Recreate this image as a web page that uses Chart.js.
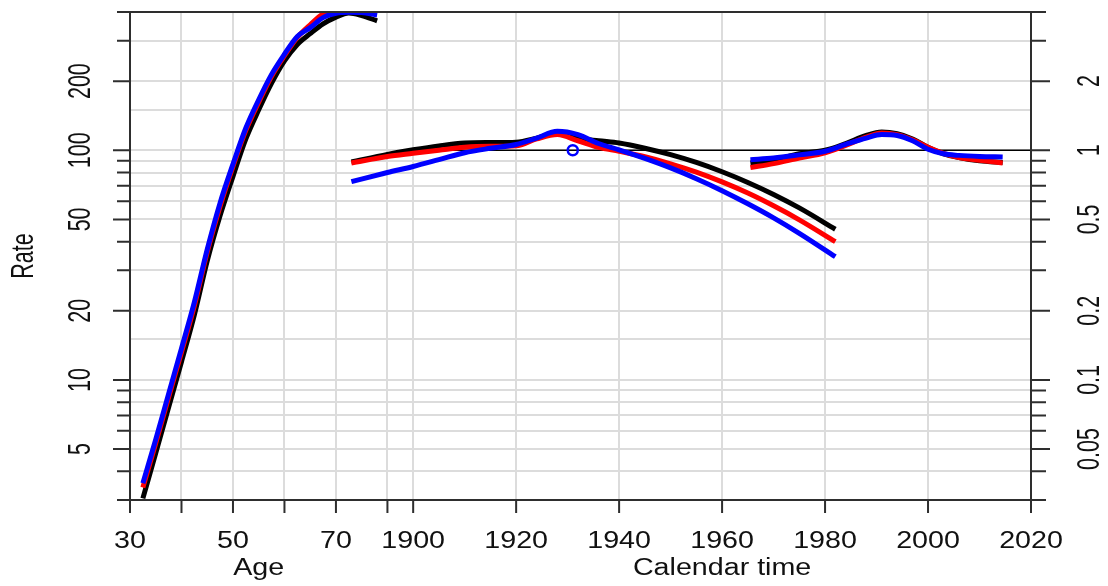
<!DOCTYPE html>
<html>
<head>
<meta charset="utf-8">
<script src="https://cdn.jsdelivr.net/npm/chart.js@4.4.1/dist/chart.umd.min.js"></script>
<style>
  body { margin: 0; background: #fff; }
  #wrap { width: 1108px; height: 586px; }
</style>
</head>
<body>
<div id="wrap"><canvas id="apc"></canvas></div>
<script>
// age effect (rates), left axis
const ageX     = [32.5, 35, 37.5, 40, 42.5, 45, 47.5, 50, 52.5, 55, 57.5, 60, 62.5, 65, 67.5, 70, 72.5, 75, 78];
const ageBlack = [3.05, 4.8, 7.6, 12.0, 19.2, 33, 52, 77, 112, 150, 196, 245, 289, 322, 355, 380, 396, 386, 366];
const ageRed   = [3.4, 5.3, 8.4, 13.2, 21, 36, 57, 85, 122, 162, 210, 258, 310, 352, 392, 404, 407, 404, 399];
const ageBlue  = [3.55, 5.5, 8.7, 13.7, 21.8, 37, 59, 87, 125, 166, 214, 262, 313, 342, 378, 395, 399, 398, 388];

// cohort effect (rate ratios), right axis
const cohX     = [1888, 1895, 1900, 1905, 1910, 1915, 1920, 1924, 1928, 1932, 1936, 1940, 1945, 1950, 1955, 1960, 1965, 1970, 1975, 1982];
const cohBlack = [0.89, 0.96, 1.005, 1.045, 1.075, 1.08, 1.085, 1.13, 1.19, 1.13, 1.10, 1.075, 1.021, 0.957, 0.885, 0.806, 0.724, 0.642, 0.561, 0.453];
const cohRed   = [0.88, 0.94, 0.97, 1.0, 1.03, 1.04, 1.045, 1.12, 1.17, 1.10, 1.03, 0.99, 0.937, 0.873, 0.803, 0.728, 0.651, 0.573, 0.498, 0.40];
const cohBlue  = [0.73, 0.80, 0.85, 0.91, 0.975, 1.02, 1.06, 1.13, 1.21, 1.17, 1.07, 1.005, 0.922, 0.838, 0.752, 0.667, 0.585, 0.508, 0.435, 0.344];

// period effect (rate ratios), right axis
const perX     = [1965.5, 1970, 1975, 1980, 1984, 1988, 1991, 1994, 1997, 2000, 2003, 2006, 2010, 2014.5];
const perBlack = [0.88, 0.905, 0.965, 1.0, 1.07, 1.16, 1.20, 1.18, 1.12, 1.03, 0.965, 0.93, 0.90, 0.885];
const perRed   = [0.84, 0.875, 0.925, 0.975, 1.05, 1.14, 1.19, 1.17, 1.11, 1.03, 0.97, 0.93, 0.905, 0.88];
const perBlue  = [0.91, 0.925, 0.955, 0.99, 1.06, 1.13, 1.17, 1.16, 1.10, 1.01, 0.965, 0.95, 0.94, 0.935];

// reference point
const refYear = 1931;
const refRR = 1;

// axes
const ageTicks   = [30, 40, 50, 60, 70, 80];
const ageLabels  = [30, 50, 70];
const ageGrid    = [40, 50, 60, 70, 80];
const calTicks   = [1900, 1920, 1940, 1960, 1980, 2000, 2020];
const calGrid    = [1900, 1920, 1940, 1960, 1980, 2000];
const rateTicks  = [400, 300, 200, 100, 90, 80, 70, 60, 50, 40, 30, 20, 10, 9, 8, 7, 6, 5, 4, 3];
const rateLabels = [5, 10, 20, 50, 100, 200];
const rateGrid   = [300, 200, 150, 100, 90, 80, 70, 60, 50, 40, 30, 20, 15, 10, 9, 8, 7, 6, 5, 4];
const rrRef      = 100;
const rrLabels   = ['0.05', '0.1', '0.2', '0.5', '1', '2'];

const pts = (xs, ys) => xs.map((x, i) => ({x: x, y: ys[i]}));

function curve(xs, ys, color, xAxis, yAxis) {
    return {
        data: pts(xs, ys),
        borderColor: color,
        borderWidth: 5,
        pointRadius: 0,
        cubicInterpolationMode: 'monotone',
        xAxisID: xAxis,
        yAxisID: yAxis,
        clip: 0
    };
}

const font = '"Liberation Sans", Arial, sans-serif';

const framePlugin = {
    id: 'frame',
    beforeDatasetsDraw(chart) {
        const ctx = chart.ctx;
        const xc = chart.scales.xc, y2 = chart.scales.y2;
        const yy = y2.getPixelForValue(refRR);
        ctx.save();
        ctx.strokeStyle = '#000';
        ctx.lineWidth = 1.5;
        ctx.beginPath();
        ctx.moveTo(xc.getPixelForValue(calTicks[0]), yy);
        ctx.lineTo(xc.getPixelForValue(calTicks[calTicks.length - 1]), yy);
        ctx.stroke();
        ctx.restore();
    },
    afterDraw(chart) {
        const ctx = chart.ctx;
        const a = chart.chartArea;
        const s = chart.scales;
        ctx.save();
        ctx.strokeStyle = '#2e2e2e';
        ctx.lineWidth = 2;
        ctx.strokeRect(a.left, a.top, a.right - a.left, a.bottom - a.top);

        // tick marks
        ctx.beginPath();
        rateTicks.forEach(v => {
            const p = s.y.getPixelForValue(v);
            const len = rateLabels.includes(v) ? 17 : 13;
            ctx.moveTo(a.left - len, p); ctx.lineTo(a.left, p);
            const q = s.y2.getPixelForValue(v / rrRef);
            ctx.moveTo(a.right, q); ctx.lineTo(a.right + len + 2, q);
        });
        ageTicks.forEach(v => {
            const p = s.xa.getPixelForValue(v);
            ctx.moveTo(p, a.bottom); ctx.lineTo(p, a.bottom + 13);
        });
        calTicks.forEach(v => {
            const p = s.xc.getPixelForValue(v);
            ctx.moveTo(p, a.bottom); ctx.lineTo(p, a.bottom + 13);
        });
        ctx.stroke();

        // labels
        ctx.fillStyle = '#111';
        ctx.textAlign = 'center';
        ctx.textBaseline = 'alphabetic';

        function vtext(t, x, y) {
            ctx.save();
            ctx.translate(x, y);
            ctx.scale(1.45, 1);
            ctx.rotate(-Math.PI / 2);
            ctx.fillText(t, 0, 0);
            ctx.restore();
        }
        function htext(t, x, y) {
            ctx.save();
            ctx.translate(x, y);
            ctx.scale(1.23, 1);
            ctx.fillText(t, 0, 0);
            ctx.restore();
        }

        ctx.font = '21.5px ' + font;
        rateLabels.forEach(v => vtext(String(v), a.left - 40, s.y.getPixelForValue(v)));
        rateLabels.forEach((v, i) => vtext(rrLabels[i], a.right + 68, s.y2.getPixelForValue(v / rrRef)));
        vtext('Rate', 33, (a.top + a.bottom) / 2);

        ctx.font = '23.3px ' + font;
        ageLabels.forEach(v => htext(String(v), s.xa.getPixelForValue(v), a.bottom + 48));
        calTicks.forEach(v => htext(String(v), s.xc.getPixelForValue(v), a.bottom + 48));
        const ageMid = (s.xa.getPixelForValue(ageTicks[0]) + s.xa.getPixelForValue(ageTicks[ageTicks.length - 1])) / 2;
        const calMid = (s.xc.getPixelForValue(calTicks[0]) + s.xc.getPixelForValue(calTicks[calTicks.length - 1])) / 2;
        htext('Age', ageMid, a.bottom + 75);
        htext('Calendar time', calMid, a.bottom + 75);
        ctx.restore();
    }
};

const gridOpts = { color: '#dcdcdc', lineWidth: 2, drawTicks: false };

new Chart(document.getElementById('apc'), {
    type: 'line',
    data: {
        datasets: [
            curve(ageX, ageBlue, '#0000ff', 'xa', 'y'),
            curve(ageX, ageRed, '#ff0000', 'xa', 'y'),
            curve(ageX, ageBlack, '#000000', 'xa', 'y'),
            curve(cohX, cohBlue, '#0000ff', 'xc', 'y2'),
            curve(cohX, cohRed, '#ff0000', 'xc', 'y2'),
            curve(cohX, cohBlack, '#000000', 'xc', 'y2'),
            curve(perX, perBlue, '#0000ff', 'xc', 'y2'),
            curve(perX, perRed, '#ff0000', 'xc', 'y2'),
            curve(perX, perBlack, '#000000', 'xc', 'y2'),
            {
                type: 'scatter',
                data: [{x: refYear, y: refRR}],
                xAxisID: 'xc',
                yAxisID: 'y2',
                pointStyle: 'circle',
                pointRadius: 5,
                borderColor: '#0000ff',
                borderWidth: 2.5,
                backgroundColor: 'rgba(0,0,0,0)'
            }
        ]
    },
    options: {
        responsive: true,
        maintainAspectRatio: false,
        devicePixelRatio: 1,
        animation: false,
        layout: { padding: { left: 130, right: 77, top: 12, bottom: 86 } },
        plugins: { legend: { display: false }, tooltip: { enabled: false } },
        scales: {
            xa: {
                type: 'linear', position: 'bottom', min: 30, max: 205,
                afterBuildTicks: scale => { scale.ticks = ageGrid.map(v => ({value: v})); },
                ticks: { display: false },
                grid: gridOpts,
                border: { display: false }
            },
            xc: {
                type: 'linear', position: 'bottom', min: 1845, max: 2020,
                afterBuildTicks: scale => { scale.ticks = calGrid.map(v => ({value: v})); },
                ticks: { display: false },
                grid: gridOpts,
                border: { display: false }
            },
            y: {
                type: 'logarithmic', position: 'left', min: 3, max: 400,
                afterBuildTicks: scale => { scale.ticks = rateGrid.map(v => ({value: v})); },
                ticks: { display: false },
                grid: gridOpts,
                border: { display: false }
            },
            y2: {
                type: 'logarithmic', position: 'right', min: 3 / rrRef, max: 400 / rrRef,
                ticks: { display: false },
                grid: { drawOnChartArea: false, drawTicks: false },
                border: { display: false }
            }
        }
    },
    plugins: [framePlugin]
});
</script>
</body>
</html>
